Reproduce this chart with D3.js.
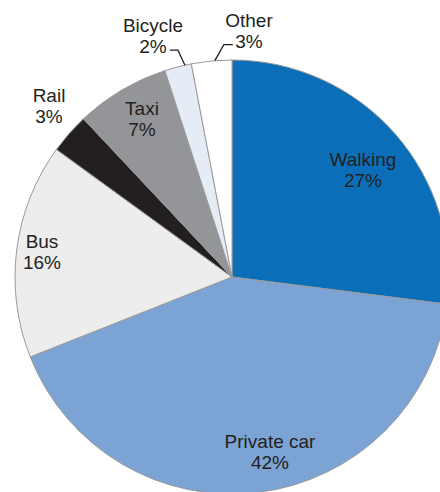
<!DOCTYPE html>
<html>
<head>
<meta charset="utf-8">
<script src="https://cdn.jsdelivr.net/npm/d3@7/dist/d3.min.js"></script>
<style>
  html, body { margin: 0; padding: 0; background: #fff; }
  svg { display: block; }
  text { font-family: "Liberation Sans", Arial, sans-serif; font-size: 19px; fill: #231f20; }
</style>
</head>
<body>
<svg id="chart" width="440" height="492"></svg>
<script>
// Travel mode share, clockwise from 12 o'clock
const categories = ["Walking", "Private car", "Bus", "Rail", "Taxi", "Bicycle", "Other"];
const shares = [27, 42, 16, 3, 7, 2, 3];
const colors = ["#0a6fb8", "#7ba3d4", "#ededed", "#231f20", "#939598", "#e6ecf6", "#ffffff"];

const svg = d3.select("#chart");
const cx = 232, cy = 277, R = 217;

const pie = d3.pie().sort(null).value(d => d.value);
const arcs = pie(categories.map((c, i) => ({ name: c, value: shares[i], color: colors[i] })));
const arc = d3.arc().innerRadius(0).outerRadius(R);

const g = svg.append("g").attr("transform", `translate(${cx},${cy})`);

g.selectAll("path.slice")
  .data(arcs)
  .join("path")
  .attr("class", "slice")
  .attr("d", arc)
  .attr("fill", d => d.data.color)
  .attr("stroke", "#9a9a9a")
  .attr("stroke-width", 1);

// polar helper: angle measured clockwise from 12 o'clock
const polar = (a, r) => [Math.sin(a) * r, -Math.cos(a) * r];

// label anchors (first-line baseline) relative to the pie centre
const labelPos = {
  "Walking":     [131, -111],
  "Private car": [38, 171],
  "Bus":         [-190, -29],
  "Rail":        [-183, -175],
  "Taxi":        [-90, -162],
  "Bicycle":     [-79, -245],
  "Other":       [17, -250]
};
const lineH = 21;

const labels = g.selectAll("text.lbl")
  .data(arcs)
  .join("text")
  .attr("class", "lbl")
  .attr("text-anchor", "middle");
labels.append("tspan")
  .attr("x", d => labelPos[d.data.name][0])
  .attr("y", d => labelPos[d.data.name][1])
  .text(d => d.data.name);
labels.append("tspan")
  .attr("x", d => labelPos[d.data.name][0])
  .attr("y", d => labelPos[d.data.name][1] + lineH)
  .text(d => d.data.value + "%");

// elbow leader lines for the two thin slices at the top
const leader = d3.line();
function drawLeader(d, frac, dx, dy, tail) {
  const a = d.startAngle + (d.endAngle - d.startAngle) * frac;
  const p0 = polar(a, R);
  const elbow = [p0[0] + dx, p0[1] + dy];
  const end = [elbow[0] + tail, elbow[1]];
  g.append("path").attr("d", leader([p0, elbow, end]))
    .attr("fill", "none").attr("stroke", "#231f20").attr("stroke-width", 1.3);
}
drawLeader(arcs[5], 0.76, -7, -15, -8);
drawLeader(arcs[6], 0.58, 9, -16, 9);
</script>
</body>
</html>
